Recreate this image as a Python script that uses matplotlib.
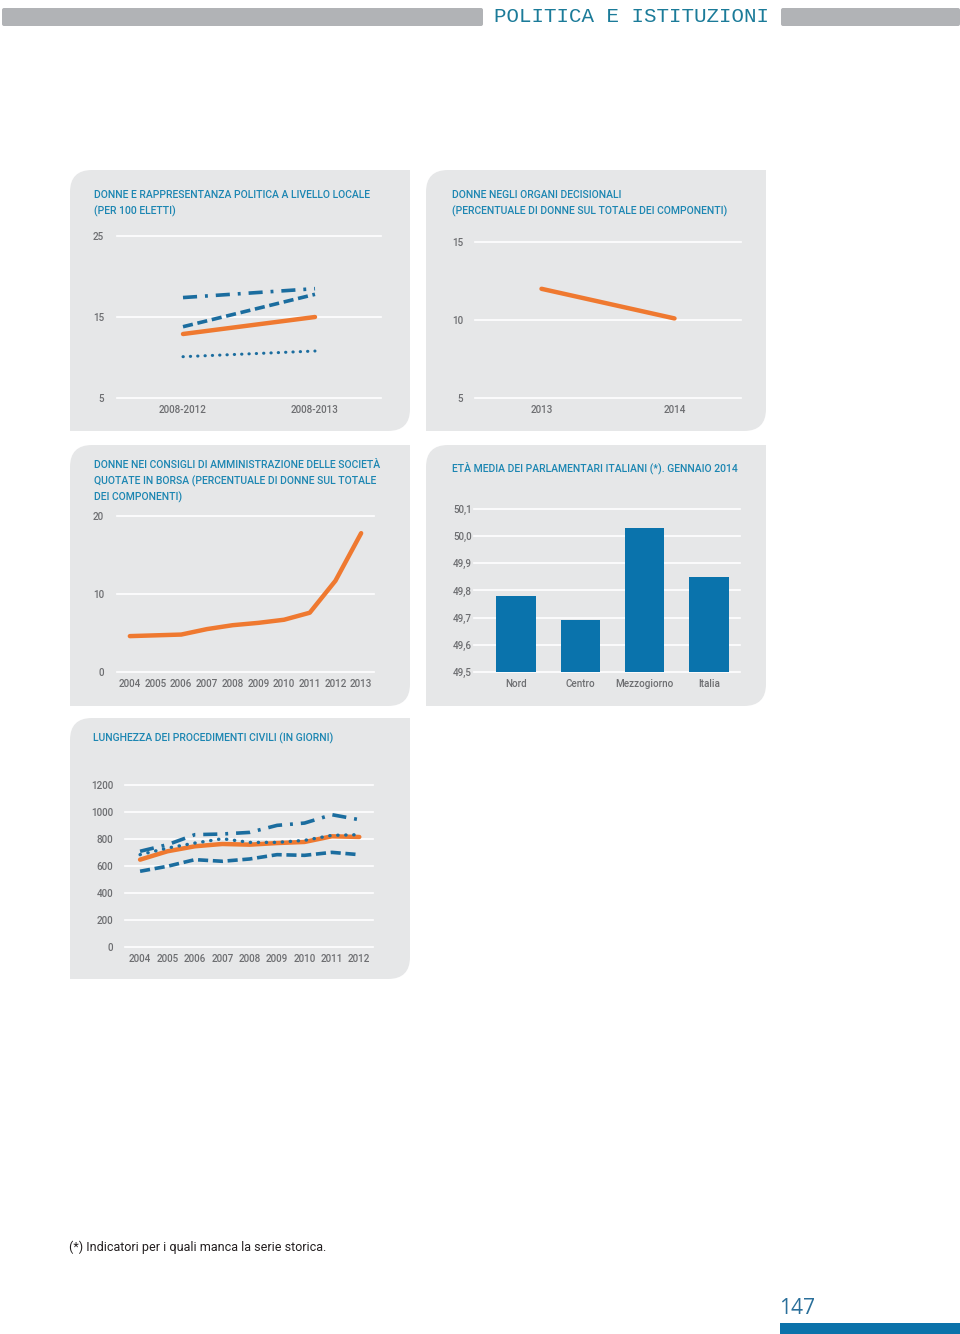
import matplotlib
matplotlib.use("Agg")
import matplotlib.pyplot as plt
from matplotlib.path import Path
from matplotlib.patches import PathPatch, Rectangle, FancyBboxPatch

# ---- data ----
p1_periods = ["2008-2012", "2008-2013"]
p1_dashdot = [17.4, 18.5]
p1_dashed = [13.8, 17.8]
p1_solid = [12.9, 15.0]
p1_dotted = [10.1, 10.8]

p2_years = ["2013", "2014"]
p2_values = [12.0, 10.1]

p3_years = [2004, 2005, 2006, 2007, 2008, 2009, 2010, 2011, 2012, 2013]
p3_values = [4.6, 4.7, 4.8, 5.5, 6.0, 6.3, 6.7, 7.6, 11.7, 17.8]

p4_areas = ["Nord", "Centro", "Mezzogiorno", "Italia"]
p4_ages = [49.78, 49.69, 50.03, 49.85]
p4_ticks = [49.5, 49.6, 49.7, 49.8, 49.9, 50.0, 50.1]

p5_years = [2004, 2005, 2006, 2007, 2008, 2009, 2010, 2011, 2012]
p5_solid = [647, 709, 746, 763, 758, 770, 778, 820, 815]
p5_dotted = [684, 733, 770, 802, 775, 775, 790, 827, 832]
p5_dashdot = [709, 758, 832, 837, 849, 901, 918, 980, 943]
p5_dashed = [561, 598, 647, 635, 652, 684, 679, 701, 684]

# ---- style ----
W, H = 960, 1334
PANEL = "#e6e7e8"
TITLE = "#1c86b2"
TICK = "#6d6e71"
BLUE = "#1b6d9f"
BAR = "#0a73ac"
ORANGE = "#ef7930"

DOTTED = (0, (0.1, 2.3))
DASHED = (0, (2.8, 1.3))
DASHDOT = (0, (3.9, 2.2, 0.8, 2.2))

plt.rcParams["font.family"] = ["Roboto", "DejaVu Sans"]
plt.rcParams["font.weight"] = "medium"

fig = plt.figure(figsize=(W / 100, H / 100), dpi=100)
fig.patch.set_facecolor("white")

bg = fig.add_axes([0, 0, 1, 1], zorder=0)
bg.set_xlim(0, W)
bg.set_ylim(H, 0)
bg.axis("off")


def panel(x0, y0, x1, y1, r=22):
    verts = [(x0, y0 + r), (x0, y0), (x0 + r, y0), (x1, y0), (x1, y1 - r),
             (x1, y1), (x1 - r, y1), (x0, y1), (x0, y0 + r)]
    codes = [Path.MOVETO, Path.CURVE3, Path.CURVE3, Path.LINETO, Path.LINETO,
             Path.CURVE3, Path.CURVE3, Path.LINETO, Path.CLOSEPOLY]
    bg.add_patch(PathPatch(Path(verts, codes), facecolor=PANEL, edgecolor="none"))


def title(x, y, lines):
    for i, line in enumerate(lines):
        bg.text(x, y + 16 * i, line, fontsize=7.5, color=TITLE, va="center", ha="left")


def make_axes(x0, y0, x1, y1, ypad):
    # pixel box -> figure axes
    ax = fig.add_axes([x0 / W, 1 - y1 / H, (x1 - x0) / W, (y1 - y0) / H], zorder=2)
    ax.set_facecolor("none")
    for s in ax.spines.values():
        s.set_visible(False)
    ax.tick_params(length=0, colors=TICK, labelsize=7.1)
    ax.tick_params(axis="x", pad=5)
    ax.tick_params(axis="y", pad=ypad)
    return ax


def grid(ax, ticks):
    for t in ticks:
        ax.axhline(t, color="white", lw=1.2, zorder=0, clip_on=False)
    ax.set_yticks(ticks)


# header
bg.add_patch(FancyBboxPatch((2, 8), 481, 18, boxstyle="round,pad=0,rounding_size=2",
                            facecolor="#b1b3b6", edgecolor="none"))
bg.add_patch(FancyBboxPatch((781, 8), 179, 18, boxstyle="round,pad=0,rounding_size=2",
                            facecolor="#b1b3b6", edgecolor="none"))
bg.text(632, 17, "POLITICA E ISTITUZIONI", ha="center", va="center", fontsize=15,
        color="#1b7b99", family=["Liberation Mono", "DejaVu Sans Mono"], weight="normal")

# panels
panel(70, 170, 410, 431)
panel(426, 170, 766, 431)
panel(70, 445, 410, 706)
panel(426, 445, 766, 706)
panel(70, 718, 410, 979)

title(94, 195, ["DONNE E RAPPRESENTANZA POLITICA A LIVELLO LOCALE", "(PER 100 ELETTI)"])
title(452, 195, ["DONNE NEGLI ORGANI DECISIONALI",
                 "(PERCENTUALE DI DONNE SUL TOTALE DEI COMPONENTI)"])
title(94, 465, ["DONNE NEI CONSIGLI DI AMMINISTRAZIONE DELLE SOCIETÀ",
                "QUOTATE IN BORSA (PERCENTUALE DI DONNE SUL TOTALE",
                "DEI COMPONENTI)"])
title(452, 468, ["ETÀ MEDIA DEI PARLAMENTARI ITALIANI (*). GENNAIO 2014"])
title(93, 738, ["LUNGHEZZA DEI PROCEDIMENTI CIVILI (IN GIORNI)"])

# panel 1
ax1 = make_axes(117, 236, 381, 398, ypad=9.4)
ax1.set_xlim(-0.5, 1.5)
ax1.set_ylim(5, 25)
grid(ax1, [5, 15, 25])
x1 = range(len(p1_periods))
ax1.plot(x1, p1_dotted, color=BLUE, lw=2.2, ls=DOTTED, dash_capstyle="round")
ax1.plot(x1, p1_solid, color=ORANGE, lw=3.2, solid_capstyle="round")
ax1.plot(x1, p1_dashed, color=BLUE, lw=2.6, ls=DASHED)
ax1.plot(x1, p1_dashdot, color=BLUE, lw=2.6, ls=DASHDOT)
ax1.set_xticks(list(x1))
ax1.set_xticklabels(p1_periods)

# panel 2
ax2 = make_axes(475, 242, 741, 398, ypad=8.6)
ax2.set_xlim(-0.5, 1.5)
ax2.set_ylim(5, 15)
grid(ax2, [5, 10, 15])
x2 = range(len(p2_years))
ax2.plot(x2, p2_values, color=ORANGE, lw=3.2, solid_capstyle="round")
ax2.set_xticks(list(x2))
ax2.set_xticklabels(p2_years)

# panel 3
ax3 = make_axes(117, 516, 374, 672, ypad=9.4)
ax3.set_xlim(2003.5, 2013.5)
ax3.set_ylim(0, 20)
grid(ax3, [0, 10, 20])
ax3.plot(p3_years, p3_values, color=ORANGE, lw=3.2, solid_capstyle="round")
ax3.set_xticks(p3_years)

# panel 4
ax4 = make_axes(474, 509, 740, 672, ypad=1.5)
ax4.set_xlim(-0.65, 3.48)
ax4.set_ylim(49.5, 50.1)
grid(ax4, p4_ticks)
x4 = range(len(p4_areas))
ax4.bar(x4, [a - 49.5 for a in p4_ages], bottom=49.5, width=0.61, color=BAR, zorder=2)
ax4.set_xticks(list(x4))
ax4.set_xticklabels(p4_areas)
ax4.set_yticklabels([f"{t:.1f}".replace(".", ",") for t in p4_ticks])

# panel 5
ax5 = make_axes(125, 785, 373, 947, ypad=8.6)
ax5.set_xlim(2003.45, 2012.5)
ax5.set_ylim(0, 1200)
grid(ax5, [0, 200, 400, 600, 800, 1000, 1200])
ax5.plot(p5_years, p5_dashed, color=BLUE, lw=2.6, ls=DASHED)
ax5.plot(p5_years, p5_solid, color=ORANGE, lw=3.2, solid_capstyle="round")
ax5.plot(p5_years, p5_dotted, color=BLUE, lw=2.4, ls=DOTTED, dash_capstyle="round")
ax5.plot(p5_years, p5_dashdot, color=BLUE, lw=2.6, ls=DASHDOT)
ax5.set_xticks(p5_years)

# footer
bg.text(69, 1247, "(*) Indicatori per i quali manca la serie storica.", fontsize=9,
        color="#231f20", va="center", ha="left", weight="normal")
bg.text(779, 1308, "147", fontsize=15, color="#2a6f9a", va="center", ha="left",
        family=["Open Sans", "DejaVu Sans"], weight="normal")
bg.add_patch(Rectangle((780, 1323), 180, 11, facecolor="#0b72aa", edgecolor="none"))

fig.savefig("out.png", dpi=100)
